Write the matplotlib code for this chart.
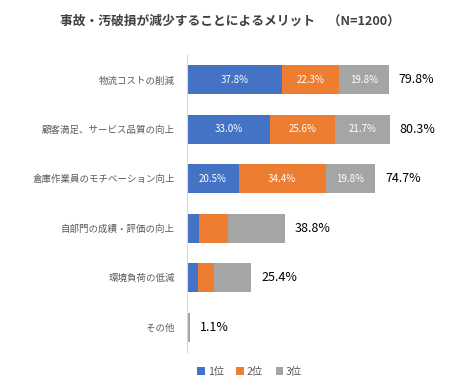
import matplotlib.pyplot as plt
import numpy as np

plt.rcParams['font.family'] = ['Noto Sans CJK JP', 'DejaVu Sans']

categories = ['物流コストの削減', '顧客満足、サービス品質の向上', '倉庫作業員のモチベーション向上',
              '自部門の成績・評価の向上', '環境負荷の低減', 'その他']
rank1 = [37.8, 33.0, 20.5, 4.6, 4.3, 0.2]
rank2 = [22.3, 25.6, 34.4, 11.5, 6.4, 0.3]
rank3 = [19.8, 21.7, 19.8, 22.7, 14.7, 0.6]
totals = [79.8, 80.3, 74.7, 38.8, 25.4, 1.1]
show_inner = [True, True, True, False, False, False]
series_names = ['1位', '2位', '3位']
colors = ['#4472C4', '#ED7D31', '#A5A5A5']

fig = plt.figure(figsize=(4.5, 3.88), dpi=100)
ax = fig.add_axes([0.416, 0.093, 0.56, 0.765])

y = np.arange(len(categories))
left = np.zeros(len(categories))
for vals, name, col in zip([rank1, rank2, rank3], series_names, colors):
    vals = np.array(vals)
    ax.barh(y, vals, left=left, height=0.58, color=col, label=name)
    for i, v in enumerate(vals):
        if show_inner[i]:
            ax.text(left[i] + v / 2, y[i], f'{v:.1f}%', ha='center', va='center',
                    color='white', fontsize=7)
    left += vals

for i, t in enumerate(totals):
    ax.text(t + 4, y[i], f'{t:.1f}%', ha='left', va='center', fontsize=9, color='black')

ax.set_xlim(0, 100)
ax.set_ylim(len(categories) - 0.5, -0.5)
ax.set_yticks(y)
ax.set_yticklabels(categories, fontsize=6.8, color='#595959')
ax.tick_params(axis='y', length=0, pad=9)
ax.set_xticks([])
for s in ['top', 'right', 'bottom']:
    ax.spines[s].set_visible(False)
ax.spines['left'].set_color('#D9D9D9')

fig.text(0.512, 0.945, '事故・汚破損が減少することによるメリット\u3000（N=1200）',
         ha='center', va='center', fontsize=9.2, fontweight='bold', color='#404040')

fig.legend(loc='center', bbox_to_anchor=(0.555, 0.042), ncol=3, frameon=False,
           fontsize=7.5, handlelength=0.7, handleheight=0.7, handletextpad=0.3,
           columnspacing=1.2, labelcolor='#595959')

fig.savefig('out.png', dpi=100)
